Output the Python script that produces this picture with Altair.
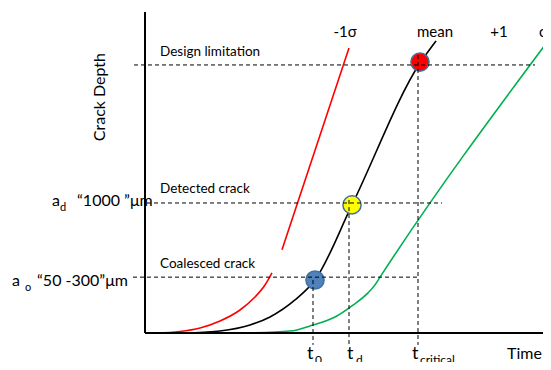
import altair as alt
import pandas as pd

# ---- data (time 0-100, crack depth 0-100, arbitrary units) ----
mean_t = [11.25, 18.75, 26.25, 31.25, 37.5, 42.5, 51.75, 68.75, 72.75]
mean_d = [0.0, 0.6, 2.5, 5.0, 10.3, 16.5, 39.9, 84.1, 91.0]

minus_t1 = [2.5, 8.75, 13.75, 18.75, 23.75, 27.5, 30.0, 31.75]
minus_d1 = [0.0, 0.47, 1.56, 3.74, 7.17, 11.2, 14.95, 18.7]
minus_t2 = [34.25, 51.0]
minus_d2 = [25.9, 88.8]

plus_t = [26.25, 36.25, 42.0, 47.5, 52.0, 55.75, 57.5, 58.75, 100.75]
plus_d = [0.0, 0.6, 2.5, 5.0, 8.7, 12.5, 15.0, 17.4, 91.0]

# milestone points on the mean curve: coalesced, detected, design limit
pt_names = ["coalesced", "detected", "design"]
pt_t = [42.5, 51.75, 68.75]
pt_d = [16.5, 39.9, 84.4]
pt_fill = ["#4F81BD", "#FFFF00", "#FF0000"]

# reference levels
h_d = [83.5, 40.5, 17.4]
h_t0 = [-2.75, 0.5, -3.0]
h_t1 = [97.5, 74.25, 68.25]

v_t = [42.0, 51.0, 68.25]
v_top = [16.5, 41.4, 86.6]
v_bot = [-3.7, -3.7, -3.7]

rows = []
for name, ts, ds in [("mean", mean_t, mean_d), ("m1", minus_t1, minus_d1),
                     ("m2", minus_t2, minus_d2), ("plus", plus_t, plus_d)]:
    for i, (t, d) in enumerate(zip(ts, ds)):
        rows.append({"seg": name, "t": t, "d": d, "i": i})
curves = pd.DataFrame(rows)
pts = pd.DataFrame({"name": pt_names, "t": pt_t, "d": pt_d, "fill": pt_fill})
hl = pd.DataFrame({"d": h_d, "t0": h_t0, "t1": h_t1})
vl = pd.DataFrame({"t": v_t, "top": v_top, "bot": v_bot})

FONT = "Lato"
xs = alt.Scale(domain=[0, 99.5], nice=False, zero=False)
ys = alt.Scale(domain=[0, 100], nice=False, zero=False)

lines = alt.Chart(curves).mark_line(strokeWidth=1.6, interpolate="monotone", clip=False).encode(
    x=alt.X("t:Q", scale=xs, axis=None),
    y=alt.Y("d:Q", scale=ys, axis=None),
    detail="seg:N",
    order="i:Q",
    color=alt.Color("seg:N", scale=alt.Scale(domain=["mean", "m1", "m2", "plus"],
                                             range=["#000000", "#FF0000", "#FF0000", "#00B050"]),
                    legend=None),
)

markers = alt.Chart(pts).mark_point(filled=True, size=330, opacity=1, stroke="#41719C",
                                    strokeWidth=1.5, shape="circle").encode(
    x=alt.X("t:Q", scale=xs), y=alt.Y("d:Q", scale=ys),
    fill=alt.Fill("fill:N", scale=None),
)

hdash = alt.Chart(hl).mark_rule(strokeDash=[4, 3], color="#000000", strokeWidth=1).encode(
    x=alt.X("t0:Q", scale=xs), x2="t1:Q", y=alt.Y("d:Q", scale=ys))
vdash = alt.Chart(vl).mark_rule(strokeDash=[4, 3], color="#000000", strokeWidth=1, clip=False).encode(
    x=alt.X("t:Q", scale=xs), y=alt.Y("top:Q", scale=ys), y2="bot:Q")

yaxis = alt.Chart().mark_rule(color="#000000", strokeWidth=2).encode(
    x=alt.datum(0, scale=xs), y=alt.datum(0, scale=ys), y2=alt.datum(100))
xaxis = alt.Chart().mark_rule(color="#000000", strokeWidth=2, clip=False).encode(
    x=alt.datum(0, scale=xs), x2=alt.datum(101.5), y=alt.datum(0, scale=ys))


def txt(s, t, d, size=14, align="left", angle=0, baseline="alphabetic"):
    return alt.Chart().mark_text(text=s, font=FONT, fontSize=size, align=align, angle=angle,
                                 baseline=baseline, color="#000000").encode(
        x=alt.datum(t, scale=xs), y=alt.datum(d, scale=ys))


texts = [
    txt("Crack Depth", -11.25, 73.5, 16, "center", 270, "middle"),
    txt("Design limitation", 3.75, 86.3, 13.5),
    txt("Detected crack", 3.75, 43.6, 13.5),
    txt("Coalesced crack", 3.75, 20.2, 13.5),
    txt("a", -23.25, 39.6, 16),
    txt("d", -21.25, 38.0, 11),
    txt("\u201c1000  \u201d\u03bcm", -17.0, 39.6, 16),
    txt("a", -33.25, 14.6, 16),
    txt("o", -30.0, 13.1, 11),
    txt("\u201c50 -300\u201d\u03bcm", -27.0, 14.6, 16),
    txt("-1\u03c3", 50.0, 92.2, 15, "center"),
    txt("mean", 72.5, 92.2, 15, "center"),
    txt("+1", 88.5, 92.2, 15, "center"),
    txt("\u03c3", 98.5, 92.2, 15),
    txt("t", 40.5, -8.1, 18),
    txt("0", 42.5, -9.7, 12),
    txt("t", 50.5, -8.1, 18),
    txt("d", 52.75, -9.7, 12),
    txt("t", 66.75, -8.1, 18),
    txt("critical", 68.75, -9.7, 12),
    txt("Time", 90.5, -8.1, 16),
]

chart = alt.layer(lines, markers, hdash, vdash, yaxis, xaxis, *texts).properties(
    width=398, height=321,
    autosize=alt.AutoSizeParams(type="none"),
    padding={"left": 137, "top": 4, "right": 0, "bottom": 29},
).configure_view(stroke=None)

chart.save("out.html", embed_options={"renderer": "svg", "actions": False})
